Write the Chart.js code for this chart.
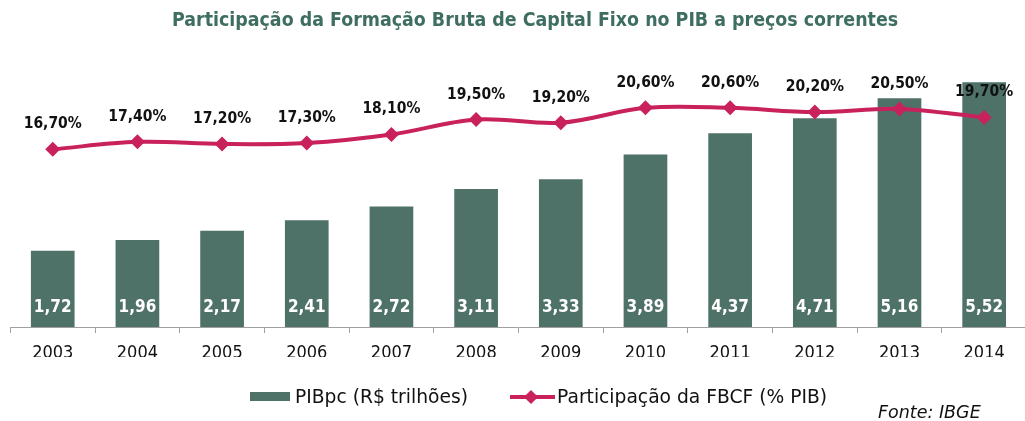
<!DOCTYPE html>
<html>
<head>
<meta charset="utf-8">
<script src="https://cdn.jsdelivr.net/npm/chart.js@4.4.0/dist/chart.umd.min.js"></script>
<style>
  html, body { margin: 0; padding: 0; width: 1025px; height: 421px; overflow: hidden; background: #fff; }
  #wrap { position: absolute; left: 0; top: 0; width: 1034px; height: 421px; }
  #title { position: absolute; left: 172px; top: 7px; white-space: nowrap;
           font-family: "DejaVu Sans Condensed", "DejaVu Sans", sans-serif; font-weight: bold;
           font-size: 19.4px; color: #3e6d61; line-height: 26px; }
  .leg { position: absolute; white-space: nowrap; font-family: "DejaVu Sans", sans-serif;
         font-size: 18.7px; color: #111; line-height: 22px; top: 386px; }
  #box1 { position: absolute; left: 250px; top: 392px; width: 40px; height: 9px; background: #4f7268; }
  #line2 { position: absolute; left: 510px; top: 395px; width: 45px; height: 4px; background: #c8215b; }
  #dia2 { position: absolute; left: 526px; top: 392px; width: 10px; height: 10px; background: #c8215b; transform: rotate(45deg); }
  #fonte { position: absolute; left: 878px; top: 401px; white-space: nowrap; font-family: "DejaVu Sans", sans-serif;
           font-style: italic; font-size: 17.5px; color: #111; line-height: 22px; }
</style>
</head>
<body>
<div id="wrap"><canvas id="c" width="1034" height="421"></canvas></div>
<div id="title">Participação da Formação Bruta de Capital Fixo no PIB a preços correntes</div>
<div id="box1"></div>
<div class="leg" style="left:295px">PIBpc (R$ trilhões)</div>
<div id="line2"></div><div id="dia2"></div>
<div class="leg" style="left:557px">Participação da FBCF (% PIB)</div>
<div id="fonte">Fonte: IBGE</div>
<script>
const categories = ['2003','2004','2005','2006','2007','2008','2009','2010','2011','2012','2013','2014'];
const pibValues = [1.72, 1.96, 2.17, 2.41, 2.72, 3.11, 3.33, 3.89, 4.37, 4.71, 5.16, 5.52];
const fbcfValues = [16.7, 17.4, 17.2, 17.3, 18.1, 19.5, 19.2, 20.6, 20.6, 20.2, 20.5, 19.7];
const barAxisRange = [0, 6];
const lineAxisRange = [0, 25];

const BAR_COLOR = '#4f7268';
const LINE_COLOR = '#c8215b';

const fmt = v => v.toFixed(2).replace('.', ',');

const labelPlugin = {
  id: 'valueLabels',
  afterDatasetsDraw(chart) {
    const ctx = chart.ctx;
    ctx.save();
    const barMeta = chart.getDatasetMeta(0);
    ctx.fillStyle = '#ffffff';
    ctx.font = 'bold 17px "DejaVu Sans Condensed", "DejaVu Sans", sans-serif';
    ctx.textAlign = 'center';
    ctx.textBaseline = 'middle';
    barMeta.data.forEach((el, i) => {
      ctx.fillText(fmt(pibValues[i]), el.x, el.base - 19);
    });
    const lineMeta = chart.getDatasetMeta(1);
    ctx.fillStyle = '#111111';
    ctx.font = 'bold 15.5px "DejaVu Sans Condensed", "DejaVu Sans", sans-serif';
    lineMeta.data.forEach((el, i) => {
      ctx.fillText(fmt(fbcfValues[i]) + '%', el.x, el.y - 25);
    });
    ctx.restore();
  }
};

new Chart(document.getElementById('c'), {
  data: {
    labels: categories,
    datasets: [
      {
        type: 'bar',
        label: 'PIBpc (R$ trilhões)',
        data: pibValues,
        backgroundColor: BAR_COLOR,
        borderWidth: 0,
        categoryPercentage: 1,
        barPercentage: 0.516,
        yAxisID: 'yBar',
        order: 2
      },
      {
        type: 'line',
        label: 'Participação da FBCF (% PIB)',
        data: fbcfValues,
        borderColor: LINE_COLOR,
        backgroundColor: LINE_COLOR,
        borderWidth: 4,
        tension: 0.35,
        pointStyle: 'rectRot',
        pointRadius: 7.5,
        pointBorderWidth: 0,
        pointBackgroundColor: LINE_COLOR,
        yAxisID: 'yLine',
        order: 1
      }
    ]
  },
  options: {
    responsive: false,
    animation: false,
    layout: { padding: { left: 10.4, right: 0, top: 61, bottom: 64 } },
    plugins: { legend: { display: false }, tooltip: { enabled: false }, title: { display: false } },
    scales: {
      x: {
        type: 'category',
        offset: true,
        afterFit: s => { s.height = 30; },
        border: { display: true, color: '#a0a0a0', width: 1 },
        grid: { display: true, drawOnChartArea: false, offset: true, tickLength: 6, color: '#a0a0a0', tickColor: '#a0a0a0' },
        ticks: { color: '#111', padding: 10, font: { family: '"DejaVu Sans Condensed", "DejaVu Sans", sans-serif', size: 18 } }
      },
      yBar: { display: false, min: barAxisRange[0], max: barAxisRange[1], position: 'left' },
      yLine: { display: false, min: lineAxisRange[0], max: lineAxisRange[1], position: 'right' }
    }
  },
  plugins: [labelPlugin]
});
</script>
</body>
</html>
